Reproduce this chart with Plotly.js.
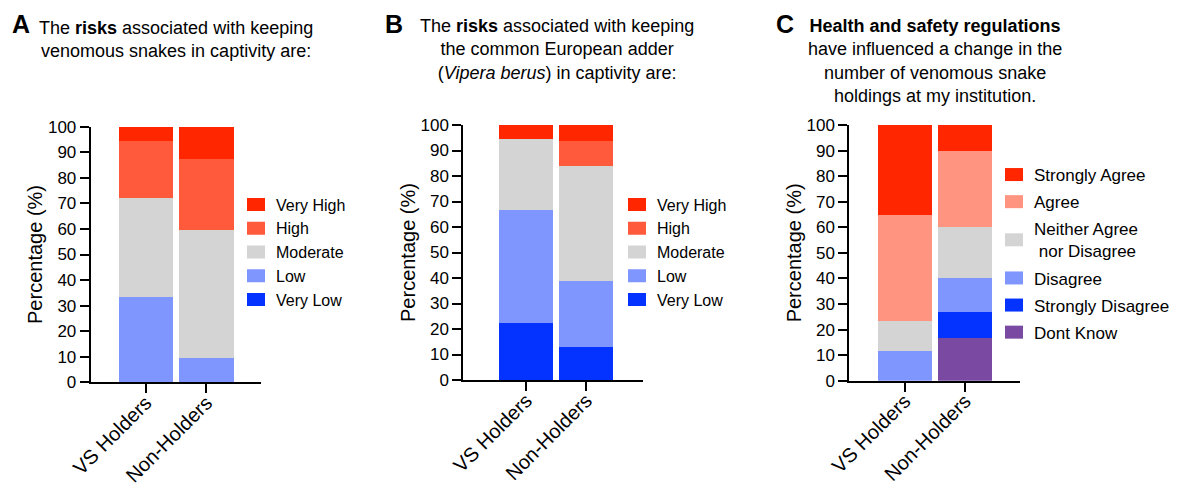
<!DOCTYPE html>
<html>
<head>
<meta charset="utf-8">
<script src="https://cdn.plot.ly/plotly-3.0.1.min.js"></script>
<style>html,body{margin:0;padding:0;background:#fff;}#chart{width:1180px;height:486px;}</style>
</head>
<body>
<div id="chart"></div>
<script>
// ---------- data ----------
const groups = ["VS Holders", "Non-Holders"];
const riskLevels = ["Very Low", "Low", "Moderate", "High", "Very High"];
// Panel A: risks of keeping venomous snakes (%)
const riskA_VeryLow  = [0, 0];
const riskA_Low      = [33.3, 9.4];
const riskA_Moderate = [38.9, 50.0];
const riskA_High     = [22.2, 28.1];
const riskA_VeryHigh = [5.6, 12.5];
// Panel B: risks of keeping Vipera berus (%)
const riskB_VeryLow  = [22.2, 12.9];
const riskB_Low      = [44.4, 25.8];
const riskB_Moderate = [27.8, 45.2];
const riskB_High     = [0, 9.7];
const riskB_VeryHigh = [5.6, 6.5];
// Panel C: health and safety regulations influence (%)
const agreeLevels = ["Dont Know", "Strongly Disagree", "Disagree", "Neither Agree<br>\u00a0nor Disagree", "Agree", "Strongly Agree"];
const hsC_DontKnow  = [0, 16.7];
const hsC_StrDis    = [0, 10.0];
const hsC_Disagree  = [11.8, 13.3];
const hsC_Neither   = [11.7, 20.0];
const hsC_Agree     = [41.2, 30.0];
const hsC_StrAgree  = [35.3, 10.0];
const yTicks = [0,10,20,30,40,50,60,70,80,90,100];

// ---------- styles ----------
const riskColors = ["#0433FF", "#8096FF", "#D4D4D4", "#FF5A3C", "#FF2600"];
const agreeColors = ["#7A4AA3", "#0433FF", "#8096FF", "#D4D4D4", "#FF9580", "#FF2600"];
const FONT = "Arial, 'Liberation Sans', Helvetica, sans-serif";
const W = 1180, H = 486;

const traces = [];
function addPanel(seriesList, names, colors, xa, ya, leg, grp) {
  const n = seriesList.length;
  seriesList.forEach((vals, i) => {
    traces.push({
      type: "bar", x: groups, y: vals, name: names[i],
      marker: {color: colors[i], line: {width: 0}},
      xaxis: xa, yaxis: ya, legend: leg, legendgroup: grp + i, legendrank: n - i,
      hoverinfo: "y+name"
    });
  });
}
addPanel([riskA_VeryLow, riskA_Low, riskA_Moderate, riskA_High, riskA_VeryHigh], riskLevels, riskColors, "x", "y", "legend", "a");
addPanel([riskB_VeryLow, riskB_Low, riskB_Moderate, riskB_High, riskB_VeryHigh], riskLevels, riskColors, "x2", "y2", "legend2", "b");
addPanel([hsC_DontKnow, hsC_StrDis, hsC_Disagree, hsC_Neither, hsC_Agree, hsC_StrAgree], agreeLevels, agreeColors, "x3", "y3", "legend3", "c");

function px(x) { return x / W; }
function py(y) { return 1 - y / H; }

function xAxis(d0, d1, r, anchor) {
  return {
    domain: [px(d0), px(d1)], range: r, anchor: anchor, type: "category",
    showline: true, linecolor: "#000", linewidth: 2, mirror: false,
    ticks: "outside", ticklen: 9, tickwidth: 2, tickcolor: "#000",
    tickangle: -45, ticklabelstandoff: -10,
    tickfont: {family: FONT, size: 20, color: "#000"},
    showgrid: false, zeroline: false, fixedrange: true
  };
}
function yAxis(top, bottom, anchor) {
  return {
    domain: [py(bottom), py(top)], range: [0, 100], anchor: anchor,
    tickvals: yTicks, showline: true, linecolor: "#000", linewidth: 2,
    ticks: "outside", ticklen: 9, tickwidth: 2, tickcolor: "#000",
    tickfont: {family: FONT, size: 17, color: "#000"},
    title: {text: "Percentage (%)", font: {family: FONT, size: 20, color: "#000"}, standoff: 0},
    showgrid: false, zeroline: false, fixedrange: true
  };
}
function legend(x, y, size, gap) {
  return {
    x: px(x), y: py(y), xanchor: "left", yanchor: "top", traceorder: "grouped",
    tracegroupgap: gap,
    font: {family: FONT, size: size, color: "#000"}, bgcolor: "rgba(0,0,0,0)",
    itemclick: false, itemdoubleclick: false
  };
}

const titleFont = {family: FONT, size: 18, color: "#000"};
const letterFont = {family: FONT, size: 25, color: "#000"};
const annotations = [
  {text: "<b>A</b>", x: px(21), y: py(24), font: letterFont},
  {text: "<b>B</b>", x: px(394), y: py(24), font: letterFont},
  {text: "<b>C</b>", x: px(785), y: py(24), font: letterFont},
  {text: "The <b>risks</b> associated with keeping<br>venomous snakes in captivity are:", x: px(176), y: py(39), font: titleFont},
  {text: "The <b>risks</b> associated with keeping<br>the common European adder<br>(<i>Vipera berus</i>) in captivity are:", x: px(557), y: py(50), font: titleFont},
  {text: "<b>Health and safety regulations</b><br>have influenced a change in the<br>number of venomous snake<br>holdings at my institution.", x: px(935), y: py(61), font: titleFont}
].map(a => Object.assign({xref: "paper", yref: "paper", xanchor: "center", yanchor: "middle", showarrow: false, align: "center"}, a));

const layout = {
  width: W, height: H, margin: {l: 0, r: 0, t: 0, b: 0},
  paper_bgcolor: "#fff", plot_bgcolor: "#fff",
  barmode: "stack", bargap: 0.1,
  font: {family: FONT, color: "#000"},
  xaxis: xAxis(90.7, 261, [-0.91, 1.9], "y"),
  yaxis: yAxis(126.7, 382.3, "x"),
  xaxis2: xAxis(463.3, 642.7, [-1.05, 1.94], "y2"),
  yaxis2: yAxis(125, 380, "x2"),
  xaxis3: xAxis(849.3, 1020, [-0.92, 1.91], "y3"),
  yaxis3: yAxis(125, 380.7, "x3"),
  legend: legend(236, 187.5, 16, 0),
  legend2: legend(617, 187.5, 16, 0),
  legend3: legend(994, 157, 17, 2),
  annotations: annotations,
  showlegend: true
};

Plotly.newPlot("chart", traces, layout, {displayModeBar: false}).then(() => {
  document.querySelectorAll(".legendpoints path").forEach(p => {
    p.setAttribute("d", "M9,6.5H-9V-6.5H9Z");
  });
});
</script>
</body>
</html>
